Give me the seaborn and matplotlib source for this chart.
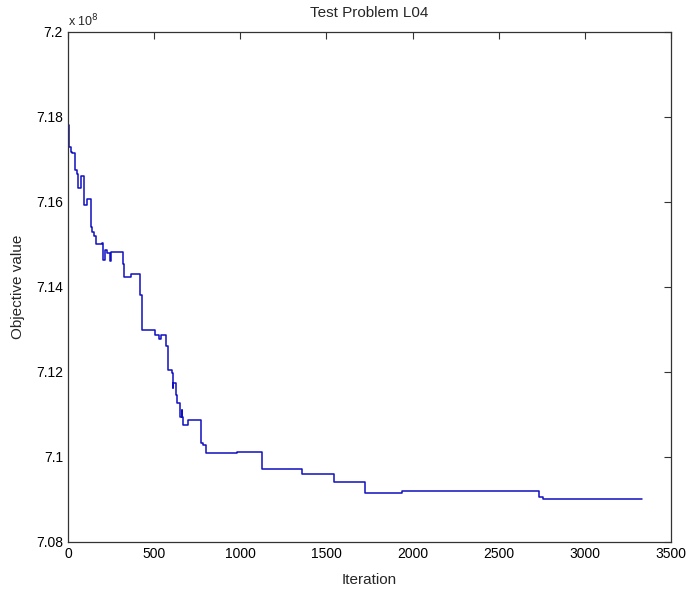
import matplotlib
matplotlib.use('Agg')
import matplotlib.pyplot as plt
import pandas as pd
import seaborn as sns

# Step points of the objective trace (value in units of 1e8)
iterations = [0, 8, 17, 25, 41, 50, 60, 74, 95, 108, 132, 137, 153, 160, 195, 205, 212,
              224, 244, 250, 321, 324, 364, 418, 428, 505, 530, 537, 569, 582, 602, 607,
              612, 627, 634, 650, 660, 664, 669, 698, 772, 785, 799, 979, 1124, 1360,
              1542, 1722, 1941, 2734, 2755, 2991, 3333]
values = [7.1781, 7.1730, 7.1718, 7.1715, 7.1675, 7.1667, 7.1632, 7.1661, 7.1593, 7.1606,
          7.1542, 7.1530, 7.1520, 7.1501, 7.1504, 7.1464, 7.1487, 7.1479, 7.1460, 7.1483,
          7.1454, 7.1423, 7.1431, 7.1381, 7.1299, 7.1287, 7.1278, 7.1287, 7.1260, 7.1205,
          7.1198, 7.1162, 7.1175, 7.1146, 7.1126, 7.1095, 7.1111, 7.1095, 7.1075, 7.1087,
          7.1034, 7.1028, 7.1009, 7.1011, 7.0971, 7.0961, 7.0940, 7.0916, 7.0919, 7.0905,
          7.0902, 7.0900, 7.0900]
x_ticks = [0, 500, 1000, 1500, 2000, 2500, 3000, 3500]
y_ticks = [7.08, 7.1, 7.12, 7.14, 7.16, 7.18, 7.2]

df = pd.DataFrame({'iteration': iterations, 'value': values})

sns.set_style('white')
plt.rcParams['font.family'] = ['Liberation Sans', 'DejaVu Sans']

fig = plt.figure(figsize=(6.86, 5.89), dpi=100)
ax = fig.add_axes([0.0991, 0.0798, 0.8791, 0.8659])

sns.lineplot(data=df, x='iteration', y='value', ax=ax, color='#1010c0',
             linewidth=1.1, drawstyle='steps-post', sort=False)

ax.set_xlim(0, 3500)
ax.set_ylim(7.08, 7.2)
ax.set_xticks(x_ticks)
ax.set_yticks(y_ticks)
ax.set_xticklabels([str(t) for t in x_ticks])
ax.set_yticklabels(['%g' % t for t in y_ticks])
ax.tick_params(direction='in', length=5, width=0.8, top=True, right=True,
               labelsize=10, colors='#333333', labelcolor='black')
for s in ax.spines.values():
    s.set_color('#333333')
    s.set_linewidth(0.9)

ax.text(0.0, 1.005, r'x 10$^{8}$', transform=ax.transAxes, fontsize=9,
        ha='left', va='bottom')
ax.set_title('Test Problem L04', fontsize=11, pad=11)
ax.set_xlabel('Iteration', fontsize=11, labelpad=9)
ax.set_ylabel('Objective value', fontsize=11, labelpad=8)

fig.savefig('out.png', dpi=100)
